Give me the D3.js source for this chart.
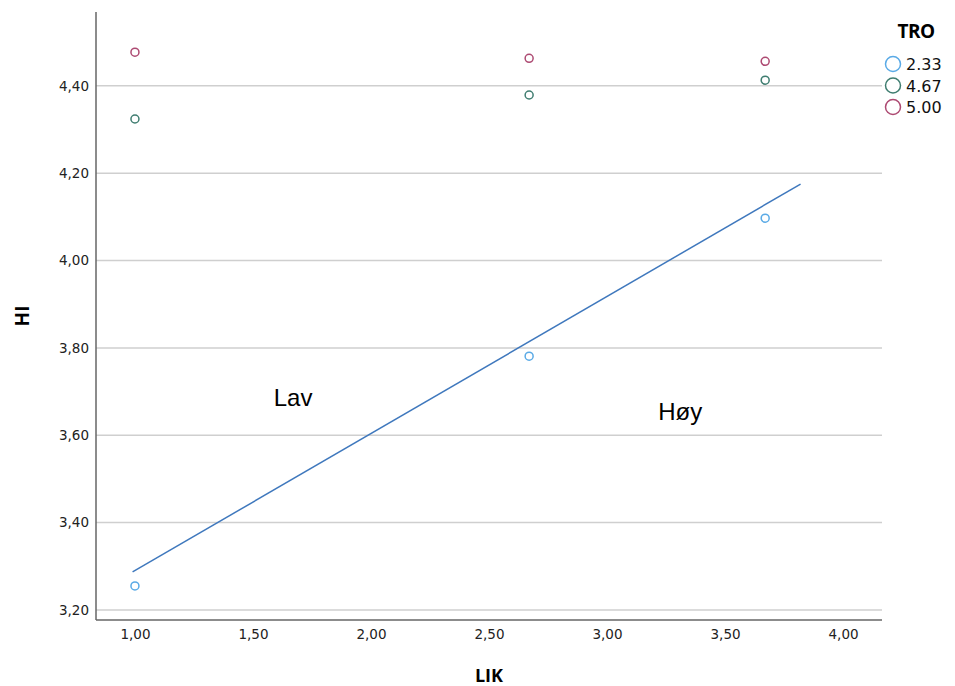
<!DOCTYPE html>
<html>
<head>
<meta charset="utf-8">
<script src="https://cdn.jsdelivr.net/npm/d3@7"></script>
<style>
  body { margin: 0; background: #fff; }
  svg { display: block; }
</style>
</head>
<body>
<svg id="chart" width="955" height="686"></svg>
<script>
// data
const likValues = [1.00, 2.67, 3.67];
const troGroups = ["2.33", "4.67", "5.00"];
const hiByTro = {
    "2.33": [3.255, 3.781, 4.097],
    "4.67": [4.324, 4.379, 4.413],
    "5.00": [4.477, 4.463, 4.456]
};
const troColors = ["#5aaae6", "#3f7d70", "#ad4a72"];
const fitLineX = [0.99, 3.82];
const fitLineY = [3.287, 4.175];
const yTicks = [3.2, 3.4, 3.6, 3.8, 4.0, 4.2, 4.4];
const xTicks = [1.0, 1.5, 2.0, 2.5, 3.0, 3.5, 4.0];
const notes = [
    {text: "Lav", x: 1.67, y: 3.667},
    {text: "Høy", x: 3.31, y: 3.635}
];

const svg = d3.select("#chart");
const plot = {left: 96, right: 882, top: 12, bottom: 620};

const x = d3.scaleLinear().domain([0.835, 4.165]).range([plot.left, plot.right]);
const y = d3.scaleLinear().domain([3.177, 4.569]).range([plot.bottom, plot.top]);
const color = d3.scaleOrdinal().domain(troGroups).range(troColors);
const fmt = d => d3.format(".2f")(d).replace(".", ",");

// grid lines
svg.append("g")
    .selectAll("line")
    .data(yTicks)
    .join("line")
    .attr("x1", plot.left)
    .attr("x2", plot.right)
    .attr("y1", d => y(d))
    .attr("y2", d => y(d))
    .attr("stroke", "#cfcfcf")
    .attr("stroke-width", 1.5);

// axes
let yAxis = svg.append("g")
    .attr("transform", `translate(${plot.left},0)`)
    .call(d3.axisLeft(y).tickValues(yTicks).tickFormat(fmt).tickSize(0).tickPadding(7));
let xAxis = svg.append("g")
    .attr("transform", `translate(0,${plot.bottom})`)
    .call(d3.axisBottom(x).tickValues(xTicks).tickFormat(fmt).tickSize(0).tickPadding(9));

[yAxis, xAxis].forEach(a => {
    a.select(".domain").attr("stroke", "#666").attr("stroke-width", 1.5);
    a.selectAll("text")
        .attr("font-family", "'DejaVu Sans', sans-serif")
        .attr("font-size", 13.5)
        .attr("fill", "#222");
});
xAxis.select(".domain").attr("d", `M${plot.left},0H${plot.right}`);
yAxis.select(".domain").attr("d", `M0,${plot.top}V${plot.bottom}`);

// axis titles
svg.append("text")
    .attr("x", 489).attr("y", 682)
    .attr("text-anchor", "middle")
    .attr("font-family", "'Open Sans', sans-serif")
    .attr("font-weight", "bold")
    .attr("font-size", 18)
    .text("LIK");
svg.append("text")
    .attr("transform", "translate(29,316) rotate(-90)")
    .attr("text-anchor", "middle")
    .attr("font-family", "'Open Sans', sans-serif")
    .attr("font-weight", "bold")
    .attr("font-size", 19)
    .text("HI");

// fit line
svg.append("line")
    .attr("x1", x(fitLineX[0])).attr("y1", y(fitLineY[0]))
    .attr("x2", x(fitLineX[1])).attr("y2", y(fitLineY[1]))
    .attr("stroke", "#3f78bd")
    .attr("stroke-width", 1.5);

// points
troGroups.forEach(g => {
    svg.append("g")
        .selectAll("circle")
        .data(likValues.map((v, i) => ({lik: v, hi: hiByTro[g][i]})))
        .join("circle")
        .attr("cx", d => x(d.lik))
        .attr("cy", d => y(d.hi))
        .attr("r", 4)
        .attr("fill", "none")
        .attr("stroke", color(g))
        .attr("stroke-width", 1.5);
});

// annotations
svg.append("g")
    .selectAll("text")
    .data(notes)
    .join("text")
    .attr("x", d => x(d.x))
    .attr("y", d => y(d.y))
    .attr("text-anchor", "middle")
    .attr("font-family", "'Liberation Sans', Arial, sans-serif")
    .attr("font-size", 24)
    .attr("fill", "#000")
    .text(d => d.text);

// legend
let legend = svg.append("g").attr("transform", "translate(893,0)");
legend.append("text")
    .attr("x", 23).attr("y", 38)
    .attr("text-anchor", "middle")
    .attr("font-family", "'Open Sans', sans-serif")
    .attr("font-weight", "bold")
    .attr("font-size", 19)
    .attr("letter-spacing", -0.5)
    .text("TRO");
let items = legend.selectAll("g.item")
    .data(troGroups)
    .join("g")
    .attr("class", "item")
    .attr("transform", (d, i) => `translate(0,${64 + i * 21.5})`);
items.append("circle")
    .attr("r", 7.5)
    .attr("fill", "none")
    .attr("stroke", d => color(d))
    .attr("stroke-width", 1.5);
items.append("text")
    .attr("x", 13)
    .attr("y", 6)
    .attr("font-family", "'DejaVu Sans', sans-serif")
    .attr("font-size", 16)
    .attr("fill", "#111")
    .text(d => d);
</script>
</body>
</html>
